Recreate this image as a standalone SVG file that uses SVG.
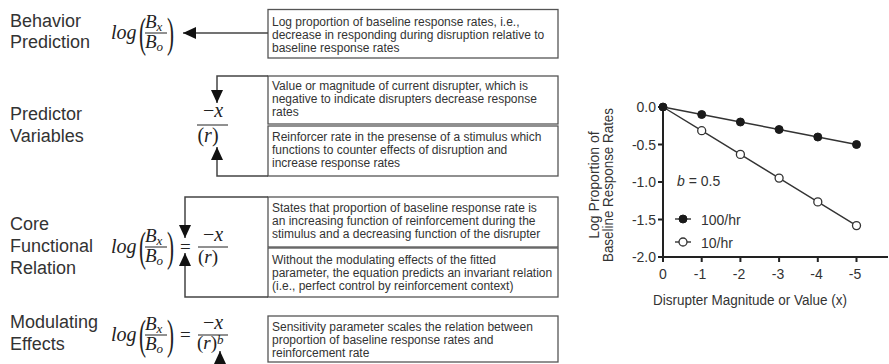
<svg xmlns="http://www.w3.org/2000/svg" width="889" height="364" viewBox="0 0 889 364">
<style>
.lbl{font-family:"Liberation Sans",Arial,sans-serif;font-size:18px;fill:#333}
.box{fill:#fff;stroke:#555;stroke-width:1.3}
.bt{font-family:"Liberation Sans",Arial,sans-serif;font-size:12px;fill:#333}
.m{font-family:"Liberation Serif","Times New Roman",serif;fill:#222}
.mi{font-family:"Liberation Serif","Times New Roman",serif;font-style:italic;fill:#222}
.conn{fill:none;stroke:#444;stroke-width:1.5}
.bar{stroke:#222;stroke-width:1}
.ax{stroke:#222;stroke-width:2;fill:none}
.tk{font-family:"Liberation Sans",Arial,sans-serif;font-size:14px;fill:#333}
.dl{stroke:#333;stroke-width:1.4;fill:none}
.fc{fill:#1a1a1a;stroke:#1a1a1a;stroke-width:1}
.oc{fill:#fff;stroke:#333;stroke-width:1.3}
</style>
<defs>
<marker id="ah" markerUnits="userSpaceOnUse" markerWidth="14" markerHeight="12" refX="13" refY="6" orient="auto">
<path d="M0,0 L13,6 L0,12 z" fill="#111"/>
</marker>
</defs>

<g id="labels">
<text class="lbl" x="10" y="27">Behavior</text>
<text class="lbl" x="10" y="48">Prediction</text>
<text class="lbl" x="10" y="120">Predictor</text>
<text class="lbl" x="10" y="142">Variables</text>
<text class="lbl" x="10" y="230">Core</text>
<text class="lbl" x="10" y="252">Functional</text>
<text class="lbl" x="10" y="274">Relation</text>
<text class="lbl" x="10" y="328">Modulating</text>
<text class="lbl" x="10" y="350">Effects</text>
</g>

<g id="eq-behavior">
<text class="mi" x="111" y="39" font-size="20">log</text>
<text class="m" font-size="21" transform="translate(139,47) scale(1,2)">(</text>
<text class="mi" x="145" y="28" font-size="19">B<tspan font-size="13" dy="3">x</tspan></text>
<line class="bar" x1="145" y1="33" x2="167" y2="33"/>
<text class="mi" x="145" y="48" font-size="19">B<tspan font-size="13" dy="3">o</tspan></text>
<text class="m" font-size="21" transform="translate(167,47) scale(1,2)">)</text>
</g>

<g id="eq-predictor">
<text class="m" x="213" y="117" font-size="20" text-anchor="middle">−<tspan class="mi">x</tspan></text>
<line class="bar" x1="197" y1="125" x2="228" y2="125"/>
<text class="m" x="208" y="142" font-size="20" text-anchor="middle">(<tspan class="mi">r</tspan>)</text>
</g>

<g id="eq-core">
<text class="mi" x="111" y="253" font-size="20">log</text>
<text class="m" font-size="21" transform="translate(139,261) scale(1,2)">(</text>
<text class="mi" x="145" y="242" font-size="19">B<tspan font-size="13" dy="3">x</tspan></text>
<line class="bar" x1="145" y1="247" x2="167" y2="247"/>
<text class="mi" x="145" y="262" font-size="19">B<tspan font-size="13" dy="3">o</tspan></text>
<text class="m" font-size="21" transform="translate(167,261) scale(1,2)">)</text>
<text class="m" x="180" y="253" font-size="19">=</text>
<text class="m" x="213" y="241" font-size="20" text-anchor="middle">−<tspan class="mi">x</tspan></text>
<line class="bar" x1="198" y1="247" x2="228" y2="247"/>
<text class="m" x="208" y="263" font-size="19" text-anchor="middle">(<tspan class="mi">r</tspan>)</text>
</g>

<g id="eq-modulating">
<text class="mi" x="111" y="341" font-size="20">log</text>
<text class="m" font-size="21" transform="translate(139,349) scale(1,2)">(</text>
<text class="mi" x="145" y="330" font-size="19">B<tspan font-size="13" dy="3">x</tspan></text>
<line class="bar" x1="145" y1="335" x2="167" y2="335"/>
<text class="mi" x="145" y="350" font-size="19">B<tspan font-size="13" dy="3">o</tspan></text>
<text class="m" font-size="21" transform="translate(167,349) scale(1,2)">)</text>
<text class="m" x="180" y="341" font-size="19">=</text>
<text class="m" x="213" y="329" font-size="20" text-anchor="middle">−<tspan class="mi">x</tspan></text>
<line class="bar" x1="198" y1="335" x2="228" y2="335"/>
<text class="m" x="197" y="349" font-size="19">(<tspan class="mi">r</tspan>)</text>
<text class="mi" x="217" y="344" font-size="13">b</text>
</g>

<g id="box-log">
<rect class="box" x="268" y="9.5" width="290" height="48.5"/>
<text class="bt" x="272" y="26">Log proportion of baseline response rates, i.e.,</text>
<text class="bt" x="272" y="39">decrease in responding during disruption relative to</text>
<text class="bt" x="272" y="52">baseline response rates</text>
</g>
<g id="box-value">
<rect class="box" x="268" y="76" width="290" height="48"/>
<text class="bt" x="272" y="90">Value or magnitude of current disrupter, which is</text>
<text class="bt" x="272" y="103">negative to indicate disrupters decrease response</text>
<text class="bt" x="272" y="116">rates</text>
</g>
<g id="box-reinforcer">
<rect class="box" x="268" y="126" width="290" height="50"/>
<text class="bt" x="272" y="141">Reinforcer rate in the presense of a stimulus which</text>
<text class="bt" x="272" y="154">functions to counter effects of disruption and</text>
<text class="bt" x="272" y="167">increase response rates</text>
</g>
<g id="box-states">
<rect class="box" x="268" y="197" width="290" height="50"/>
<text class="bt" x="272" y="212">States that proportion of baseline response rate is</text>
<text class="bt" x="272" y="225">an increasing function of reinforcement during the</text>
<text class="bt" x="272" y="238">stimulus and a decreasing function of the disrupter</text>
</g>
<g id="box-without">
<rect class="box" x="268" y="248" width="290" height="49"/>
<text class="bt" x="272" y="264">Without the modulating effects of the fitted</text>
<text class="bt" x="272" y="277">parameter, the equation predicts an invariant relation</text>
<text class="bt" x="272" y="290">(i.e., perfect control by reinforcement context)</text>
</g>
<g id="box-sensitivity">
<rect class="box" x="268" y="316" width="290" height="46"/>
<text class="bt" x="272" y="331">Sensitivity parameter scales the relation between</text>
<text class="bt" x="272" y="344">proportion of baseline response rates and</text>
<text class="bt" x="272" y="357">reinforcement rate</text>
</g>

<g id="connectors">
<path class="conn" d="M268,33 H183" marker-end="url(#ah)"/>
<path class="conn" d="M268,76 H217 V103" marker-end="url(#ah)"/>
<path class="conn" d="M268,176 H217 V147" marker-end="url(#ah)"/>
<path class="conn" d="M268,197 H185 V238" marker-end="url(#ah)"/>
<path class="conn" d="M268,297 H185 V253" marker-end="url(#ah)"/>
<path class="conn" d="M220,368 V351" marker-end="url(#ah)"/>
</g>

<g id="chart">
<path class="ax" d="M663,106 V257 H888"/>
<path class="ax" d="M658,107 H663 M658,144.5 H663 M658,182 H663 M658,219.5 H663 M658,257 H663"/>
<path class="ax" d="M663,257 V262 M701.7,257 V262 M740.4,257 V262 M779.1,257 V262 M817.8,257 V262 M856.5,257 V262"/>
<g class="tk" text-anchor="end">
<text x="656" y="112">0.0</text>
<text x="656" y="149.5">-0.5</text>
<text x="656" y="187">-1.0</text>
<text x="656" y="224.5">-1.5</text>
<text x="656" y="262">-2.0</text>
</g>
<g class="tk" text-anchor="middle">
<text x="663" y="279">0</text>
<text x="700" y="279">-1</text>
<text x="739" y="279">-2</text>
<text x="778" y="279">-3</text>
<text x="816.5" y="279">-4</text>
<text x="855" y="279">-5</text>
</g>
<text class="tk" x="653" y="305" textLength="194" lengthAdjust="spacingAndGlyphs">Disrupter Magnitude or Value (x)</text>
<text class="tk" transform="translate(599,185) rotate(-90)" text-anchor="middle">Log Proportion of</text>
<text class="tk" transform="translate(613,185) rotate(-90)" text-anchor="middle" textLength="154" lengthAdjust="spacingAndGlyphs">Baseline Response Rates</text>
<polyline class="dl" points="663,107 701.7,114.5 740.4,122 779.1,129.5 817.8,137 856.5,144.5"/>
<polyline class="dl" points="663,107 701.7,130.7 740.4,154.4 779.1,178.1 817.8,201.9 856.5,225.6"/>
<g class="oc">
<circle cx="701.7" cy="130.7" r="4"/>
<circle cx="740.4" cy="154.4" r="4"/>
<circle cx="779.1" cy="178.1" r="4"/>
<circle cx="817.8" cy="201.9" r="4"/>
<circle cx="856.5" cy="225.6" r="4"/>
</g>
<g class="fc">
<circle cx="663" cy="107" r="4"/>
<circle cx="701.7" cy="114.5" r="4"/>
<circle cx="740.4" cy="122" r="4"/>
<circle cx="779.1" cy="129.5" r="4"/>
<circle cx="817.8" cy="137" r="4"/>
<circle cx="856.5" cy="144.5" r="4"/>
</g>
<text class="tk" x="677" y="186" font-size="15"><tspan font-style="italic">b</tspan> = 0.5</text>
<line class="dl" x1="675" y1="219" x2="691" y2="219"/>
<circle class="fc" cx="683" cy="219" r="4"/>
<text class="tk" x="701" y="225" font-size="15">100/hr</text>
<line class="dl" x1="675" y1="242" x2="691" y2="242"/>
<circle class="oc" cx="683" cy="242" r="4"/>
<text class="tk" x="701" y="248" font-size="15">10/hr</text>
</g>
</svg>
